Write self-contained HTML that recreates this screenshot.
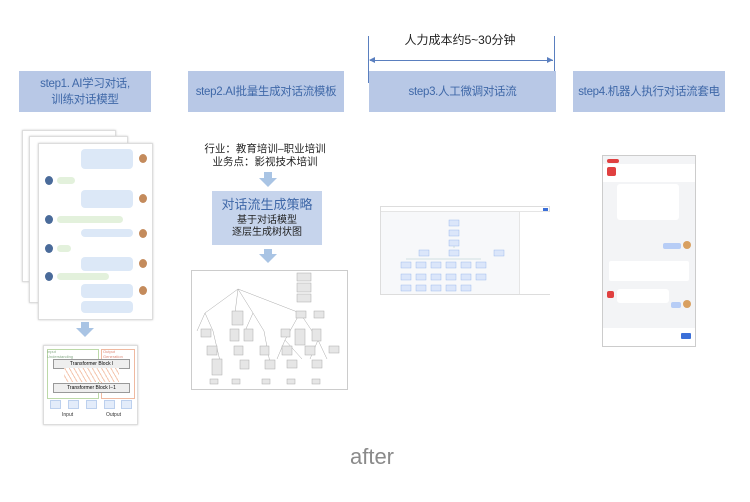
<!DOCTYPE html>
<html><head><meta charset="utf-8"><style>
body{margin:0;width:750px;height:502px;background:#fff;position:relative;overflow:hidden;font-family:"Liberation Sans","Noto Sans CJK SC",sans-serif}
.a{position:absolute}
.step{position:absolute;background:#b8c8e6;color:#3f68a8;font-size:11.5px;display:flex;align-items:center;justify-content:center;text-align:center;line-height:16px;top:71px;height:41px;white-space:nowrap;letter-spacing:-0.3px}
.card{position:absolute;background:#fff;border:1px solid #ddd;box-shadow:0 0 2px #ccc}
.bub{position:absolute;border-radius:4px}
.b1{background:#dce8f7}.b2{background:#e3f1dc}
.av{position:absolute;width:8px;height:9px;border-radius:50%;background:#4a6b9a}
.darr{position:absolute;width:0;height:0;border-left:9px solid transparent;border-right:9px solid transparent;border-top:9px solid #a9c4e4}
.dstem{position:absolute;width:8px;background:#a9c4e4}
.bn{position:absolute;background:#e3ecfa;border:1px solid #bcd0ee}
</style></head><body>

<div class="a" style="left:368px;top:36px;width:1px;height:47px;background:#5a7fbf"></div>
<div class="a" style="left:554px;top:36px;width:1px;height:47px;background:#5a7fbf"></div>
<div class="a" style="left:370px;top:60px;width:183px;height:1px;background:#5a7fbf"></div>
<div class="a" style="left:369px;top:57px;border-right:6px solid #5a7fbf;border-top:3.5px solid transparent;border-bottom:3.5px solid transparent"></div>
<div class="a" style="left:547px;top:57px;border-left:6px solid #5a7fbf;border-top:3.5px solid transparent;border-bottom:3.5px solid transparent"></div>
<div class="a" style="left:400px;top:31px;width:120px;text-align:center;font-size:12px;color:#222">人力成本约5~30分钟</div>

<div class="step" style="left:19px;width:132px">step1. AI学习对话,<br>训练对话模型</div>
<div class="step" style="left:188px;width:156px">step2.AI批量生成对话流模板</div>
<div class="step" style="left:369px;width:187px">step3.人工微调对话流</div>
<div class="step" style="left:573px;width:152px">step4.机器人执行对话流套电</div>

<div class="card" style="left:22px;top:130px;width:92px;height:150px"></div>
<div class="card" style="left:29px;top:136px;width:97px;height:165px"></div>
<div class="card" style="left:38px;top:143px;width:113px;height:175px">
 <div class="bub b1" style="left:42px;top:5px;width:52px;height:20px"></div><div class="av" style="left:100px;top:10px;background:#c48b5c"></div>
 <div class="av" style="left:6px;top:32px"></div><div class="bub b2" style="left:18px;top:33px;width:18px;height:7px"></div>
 <div class="bub b1" style="left:42px;top:46px;width:52px;height:18px"></div><div class="av" style="left:100px;top:50px;background:#c48b5c"></div>
 <div class="av" style="left:6px;top:71px"></div><div class="bub b2" style="left:18px;top:72px;width:66px;height:7px"></div>
 <div class="bub b1" style="left:42px;top:85px;width:52px;height:8px"></div><div class="av" style="left:100px;top:85px;background:#c48b5c"></div>
 <div class="av" style="left:6px;top:100px"></div><div class="bub b2" style="left:18px;top:101px;width:14px;height:7px"></div>
 <div class="bub b1" style="left:42px;top:113px;width:52px;height:14px"></div><div class="av" style="left:100px;top:115px;background:#c48b5c"></div>
 <div class="av" style="left:6px;top:128px"></div><div class="bub b2" style="left:18px;top:129px;width:52px;height:7px"></div>
 <div class="bub b1" style="left:42px;top:140px;width:52px;height:14px"></div><div class="av" style="left:100px;top:142px;background:#c48b5c"></div>
 <div class="bub b1" style="left:42px;top:157px;width:52px;height:12px"></div>
</div>
<div class="dstem" style="left:81px;top:322px;height:6px"></div><div class="darr" style="left:76px;top:328px"></div>

<div class="card" style="left:43px;top:345px;width:93px;height:78px">
 <div class="a" style="left:3px;top:3px;width:50px;height:48px;border:1px solid #bcd9a8"></div>
 <div class="a" style="left:57px;top:3px;width:32px;height:48px;border:1px solid #efb9a0"></div>
 <div class="a" style="left:3px;top:3px;font-size:4px;color:#8a8">Input<br>Understanding</div>
 <div class="a" style="left:59px;top:3px;font-size:4px;color:#d87">Output<br>Generation</div>
 <div class="a" style="left:9px;top:13px;width:75px;height:8px;background:#eee;border:1px solid #999;font-size:5px;text-align:center;line-height:8px">Transformer Block l</div>
 <div class="a" style="left:9px;top:37px;width:75px;height:8px;background:#eee;border:1px solid #999;font-size:5px;text-align:center;line-height:8px">Transformer Block l−1</div>
 <div class="a" style="left:20px;top:22px;width:55px;height:14px;background:repeating-linear-gradient(60deg,#fff 0 3px,#f4c7b0 3px 4px)"></div>
 <div class="bn" style="left:6px;top:54px;width:9px;height:7px"></div><div class="bn" style="left:24px;top:54px;width:9px;height:7px"></div><div class="bn" style="left:42px;top:54px;width:9px;height:7px"></div><div class="bn" style="left:60px;top:54px;width:9px;height:7px"></div><div class="bn" style="left:77px;top:54px;width:9px;height:7px"></div>
 <div class="a" style="left:18px;top:66px;font-size:5px;color:#333">Input</div><div class="a" style="left:62px;top:66px;font-size:5px;color:#333">Output</div>
</div>

<div class="a" style="left:195px;top:143px;width:140px;text-align:center;font-size:10.5px;line-height:13px;color:#222">行业：教育培训–职业培训<br>业务点：影视技术培训</div>
<div class="dstem" style="left:264px;top:172px;height:6px"></div><div class="darr" style="left:259px;top:178px"></div>
<div class="a" style="left:212px;top:191px;width:110px;height:54px;background:#c6d4ec;text-align:center">
 <div style="color:#3f68a8;font-size:13px;margin-top:3px">对话流生成策略</div>
 <div style="color:#222;font-size:10px;line-height:12px;margin-top:2px">基于对话模型<br>逐层生成树状图</div>
</div>
<div class="dstem" style="left:264px;top:249px;height:5px"></div><div class="darr" style="left:259px;top:254px"></div>
<div class="a" style="left:191px;top:270px;width:155px;height:118px;border:1px solid #ccc;background:#fff">
 <svg width="155" height="118" style="position:absolute;left:0;top:0">
  <g stroke="#aaa" stroke-width="0.5" fill="none">
   <path d="M46 18 L13 42 M46 18 L43 42 M46 18 L61 42 M46 18 L108 42 M108 42 L93 69 M108 42 L126 69 M13 42 L5 60 M13 42 L21 60 M61 42 L53 60 M61 42 L72 60 M93 69 L85 88 M93 69 L110 88 M126 69 L118 88 M126 69 L135 88 M21 60 L28 90 M72 60 L78 92"/>
  </g>
  <g fill="#e6e6e6" stroke="#aaa" stroke-width="0.5">
   <rect x="105" y="2" width="14" height="8"/><rect x="105" y="12" width="14" height="9"/><rect x="105" y="23" width="14" height="8"/>
   <rect x="40" y="40" width="11" height="14"/><rect x="104" y="40" width="10" height="7"/><rect x="122" y="40" width="10" height="7"/>
   <rect x="9" y="58" width="10" height="8"/><rect x="38" y="58" width="9" height="12"/><rect x="52" y="58" width="9" height="12"/>
   <rect x="89" y="58" width="9" height="8"/><rect x="103" y="58" width="10" height="16"/><rect x="120" y="58" width="9" height="12"/>
   <rect x="15" y="75" width="10" height="9"/><rect x="42" y="75" width="9" height="9"/><rect x="68" y="75" width="9" height="9"/>
   <rect x="90" y="75" width="10" height="9"/><rect x="113" y="75" width="10" height="9"/><rect x="137" y="75" width="10" height="7"/>
   <rect x="20" y="88" width="10" height="16"/><rect x="48" y="89" width="9" height="9"/><rect x="73" y="89" width="10" height="9"/>
   <rect x="95" y="89" width="10" height="8"/><rect x="120" y="89" width="10" height="8"/>
   <rect x="18" y="108" width="8" height="5"/><rect x="40" y="108" width="8" height="5"/><rect x="70" y="108" width="8" height="5"/><rect x="95" y="108" width="8" height="5"/><rect x="120" y="108" width="8" height="5"/>
  </g>
 </svg>
</div>

<div class="a" style="left:380px;top:206px;width:168px;height:87px;border:1px solid #ddd;background:#f7f8fa">
 <div class="a" style="left:0;top:0;width:168px;height:4px;background:#fff;border-bottom:1px solid #e5e5e5"></div>
 <div class="a" style="left:138px;top:5px;width:30px;height:82px;background:#fff;border-left:1px solid #e5e5e5"></div>
 <div class="a" style="left:162px;top:1px;width:5px;height:3px;background:#3b6fd8"></div>
 <svg width="138" height="82" style="position:absolute;left:0;top:5px"><g fill="#dbe6fa" stroke="#8fb0ea" stroke-width="0.4">
  <rect x="68" y="8" width="10" height="6"/><rect x="68" y="18" width="10" height="6"/><rect x="68" y="28" width="10" height="6"/>
  <rect x="38" y="38" width="10" height="6"/><rect x="68" y="38" width="10" height="6"/><rect x="113" y="38" width="10" height="6"/>
  <rect x="20" y="50" width="10" height="6"/><rect x="35" y="50" width="10" height="6"/><rect x="50" y="50" width="10" height="6"/><rect x="65" y="50" width="10" height="6"/><rect x="80" y="50" width="10" height="6"/><rect x="95" y="50" width="10" height="6"/>
  <rect x="20" y="62" width="10" height="6"/><rect x="35" y="62" width="10" height="6"/><rect x="50" y="62" width="10" height="6"/><rect x="65" y="62" width="10" height="6"/><rect x="80" y="62" width="10" height="6"/><rect x="95" y="62" width="10" height="6"/>
  <rect x="20" y="73" width="10" height="6"/><rect x="35" y="73" width="10" height="6"/><rect x="50" y="73" width="10" height="6"/><rect x="65" y="73" width="10" height="6"/><rect x="80" y="73" width="10" height="6"/>
  </g><path d="M73 34 V36 M25 47 H100" stroke="#9bb" stroke-width="0.4"/></svg>
</div>

<div class="a" style="left:602px;top:155px;width:92px;height:190px;border:1px solid #ccc;background:#f3f4f6">
 <div class="a" style="left:4px;top:3px;width:12px;height:4px;border-radius:2px;background:#e04040"></div>
 <div class="a" style="left:0;top:8px;width:92px;height:18px;background:#fff"></div>
 <div class="a" style="left:4px;top:11px;width:9px;height:9px;border-radius:2px;background:#e04040"></div>
 <div class="a" style="left:14px;top:28px;width:62px;height:36px;background:#fff;border-radius:3px"></div>
 <div class="a" style="left:60px;top:87px;width:18px;height:6px;background:#b7cdf6;border-radius:2px"></div>
 <div class="a" style="left:80px;top:85px;width:8px;height:8px;border-radius:50%;background:#d9a060"></div>
 <div class="a" style="left:6px;top:105px;width:80px;height:20px;background:#fff;border-radius:2px"></div>
 <div class="a" style="left:4px;top:135px;width:7px;height:7px;background:#e04040;border-radius:2px"></div>
 <div class="a" style="left:14px;top:133px;width:52px;height:14px;background:#fff;border-radius:3px"></div>
 <div class="a" style="left:68px;top:146px;width:10px;height:6px;background:#b7cdf6;border-radius:2px"></div>
 <div class="a" style="left:80px;top:144px;width:8px;height:8px;border-radius:50%;background:#d9a060"></div>
 <div class="a" style="left:0;top:172px;width:92px;height:18px;background:#fff"></div>
 <div class="a" style="left:78px;top:177px;width:10px;height:6px;background:#3b6fd8;border-radius:1px"></div>
</div>

<div class="a" style="left:340px;top:444px;width:64px;text-align:center;font-size:22px;color:#8a8a8a">after</div>
</body></html>
